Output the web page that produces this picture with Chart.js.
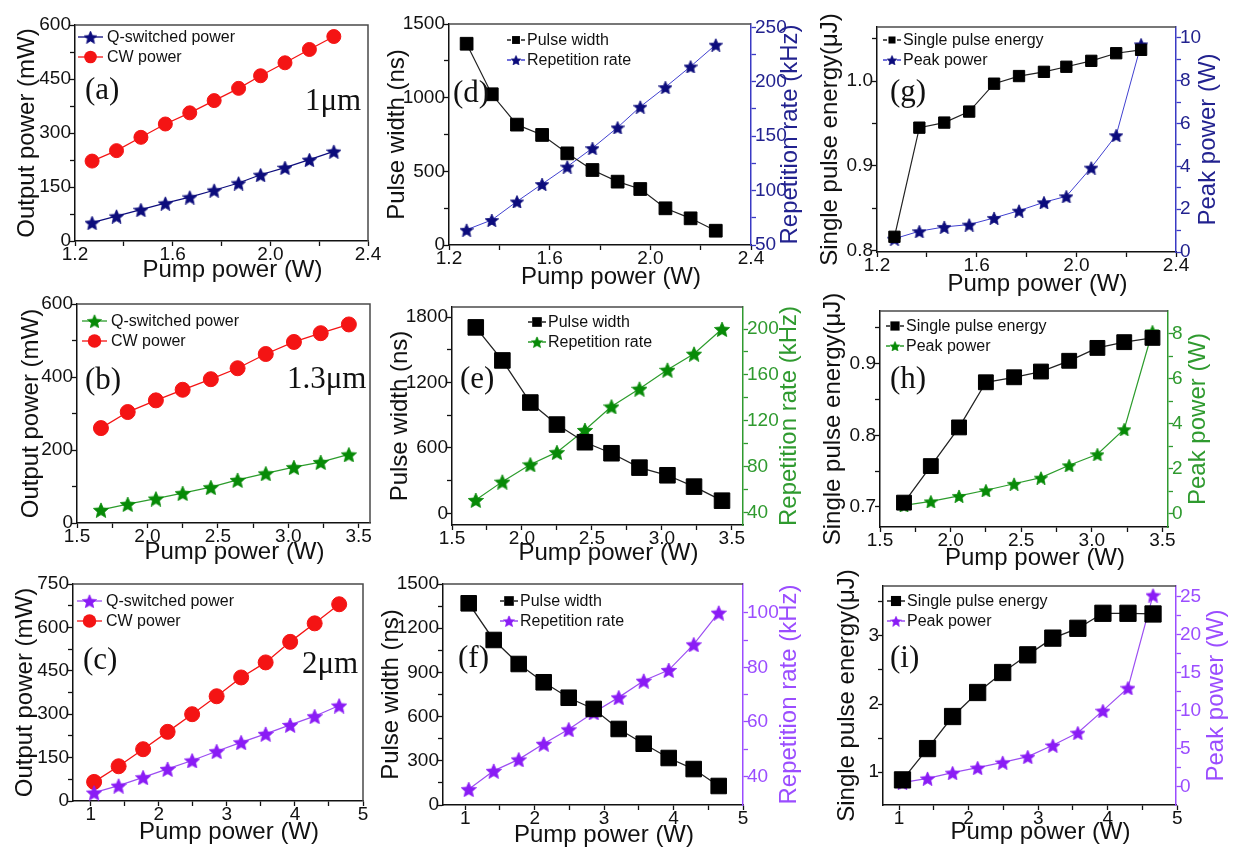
<!DOCTYPE html>
<html lang="en">
<head>
<meta charset="UTF-8">
<title>Q-switched output, pulse width and pulse energy</title>
<script src="https://cdn.jsdelivr.net/npm/chart.js@4"></script>
<style>
  html, body { margin: 0; background: #fff; }
  #page { position: relative; width: 1233px; height: 850px; overflow: hidden; background: #fff; }
  #page canvas { position: absolute; }
  .tag { position: absolute; font-family: "Liberation Serif", "Times New Roman", serif; font-size: 31px; line-height: 1; color: #111; white-space: nowrap; }
</style>
</head>
<body>
<div id="page"></div>
<script>
// pump power (W) for the three wavelengths
const x1um  = [1.27, 1.37, 1.47, 1.57, 1.67, 1.77, 1.87, 1.96, 2.06, 2.16, 2.26];
const x13um = [1.67, 1.86, 2.06, 2.25, 2.45, 2.64, 2.84, 3.04, 3.23, 3.43];
const x2um  = [1.05, 1.41, 1.77, 2.13, 2.49, 2.85, 3.21, 3.57, 3.93, 4.29, 4.65];

// output power (mW)
const qPower1  = [51, 69, 87, 105, 122, 141, 161, 184, 204, 226, 249];
const cwPower1 = [222, 251, 288, 325, 356, 390, 424, 459, 495, 532, 568];
const qPower13  = [36, 52, 67, 82, 98, 118, 136, 153, 167, 188];
const cwPower13 = [260, 304, 336, 365, 394, 424, 463, 496, 520, 544];
const qPower2  = [29, 53, 82, 111, 140, 172, 203, 232, 263, 293, 330];
const cwPower2 = [66, 120, 179, 239, 300, 362, 427, 479, 550, 614, 680];

// pulse width (ns) and repetition rate (kHz)
const width1 = [1366, 1023, 817, 747, 622, 509, 430, 380, 249, 181, 97];
const rate1  = [64, 73, 90, 106, 122, 139, 158, 177, 195, 214, 234];
const width13 = [1705, 1402, 1016, 814, 652, 551, 419, 349, 245, 116];
const rate13  = [51, 67, 82, 92.7, 112, 132.5, 148, 164.5, 178.5, 200];
const width2 = [1369, 1120, 957, 833, 728, 652, 516, 416, 319, 244, 129];
const rate2  = [35.4, 42.1, 46.3, 52, 57.3, 63.5, 69, 75.1, 79, 88.4, 100];

// single pulse energy (uJ) and peak power (W)
const energy1 = [0.816, 0.945, 0.951, 0.964, 0.997, 1.006, 1.011, 1.017, 1.024, 1.033, 1.037];
const peak1   = [0.62, 0.97, 1.17, 1.28, 1.59, 1.93, 2.32, 2.60, 3.94, 5.45, 9.69];
const energy13 = [0.706, 0.757, 0.811, 0.874, 0.881, 0.889, 0.904, 0.922, 0.930, 0.936];
const peak13   = [0.37, 0.55, 0.79, 1.04, 1.33, 1.6, 2.15, 2.64, 3.75, 8.1];
const energy2 = [0.888, 1.347, 1.817, 2.169, 2.462, 2.721, 2.966, 3.11, 3.33, 3.33, 3.32];
const peak2   = [0.53, 1.1, 1.84, 2.5, 3.2, 3.95, 5.44, 7.1, 10, 13.0, 25.2];

// tick labels (major) and minor tick marks
const xMajor1 = [1.2, 1.6, 2.0, 2.4], xMinor1 = [1.4, 1.8, 2.2];
const xMajor13 = [1.5, 2.0, 2.5, 3.0, 3.5], xMinor13 = [1.75, 2.25, 2.75, 3.25];
const xMajor2 = [1, 2, 3, 4, 5], xMinor2 = [1.5, 2.5, 3.5, 4.5];
const pMajor1 = [0, 150, 300, 450, 600], pMinor1 = [75, 225, 375, 525];
const pMajor13 = [0, 200, 400, 600], pMinor13 = [100, 300, 500];
const pMajor2 = [0, 150, 300, 450, 600, 750], pMinor2 = [75, 225, 375, 525, 675];
const wMajor1 = [0, 500, 1000, 1500], wMinor1 = [250, 750, 1250];
const rMajor1 = [50, 100, 150, 200, 250], rMinor1 = [75, 125, 175, 225];
const wMajor13 = [0, 600, 1200, 1800], wMinor13 = [300, 900, 1500];
const rMajor13 = [40, 80, 120, 160, 200], rMinor13 = [60, 100, 140, 180];
const wMajor2 = [0, 300, 600, 900, 1200, 1500], wMinor2 = [150, 450, 750, 1050, 1350];
const rMajor2 = [40, 60, 80, 100], rMinor2 = [50, 70, 90];
const eMajor1 = [0.8, 0.9, 1.0], eMinor1 = [0.85, 0.95, 1.05];
const kMajor1 = [0, 2, 4, 6, 8, 10], kMinor1 = [1, 3, 5, 7, 9];
const eMajor13 = [0.7, 0.8, 0.9], eMinor13 = [0.75, 0.85, 0.95];
const kMajor13 = [0, 2, 4, 6, 8], kMinor13 = [1, 3, 5, 7];
const eMajor2 = [1, 2, 3], eMinor2 = [1.5, 2.5, 3.5];
const kMajor2 = [0, 5, 10, 15, 20, 25], kMinor2 = [2.5, 7.5, 12.5, 17.5, 22.5];

const FONT = '"Liberation Sans", Arial, Helvetica, sans-serif';
Chart.defaults.font.family = FONT;
const PL = 70, PR = 60, PT = 20, PB = 50;

const INK = '#111';
const NAVY = '#0c0c7c', BLUE_LINE = '#4040d0', BLUE_AX = '#3a3ac4', BLUE_TXT = '#22228f';
const GREEN = '#078a07', GREEN_LINE = '#2c9c2c', GREEN_AX = '#2f9a2f';
const PURPLE = '#8a1cf5', PURPLE_LINE = '#9c4ef2', PURPLE_AX = '#9b4dff';
const RED = '#f41414';

// filled five point star used as a marker
function starImg(color, d) {
  const c = document.createElement('canvas');
  c.width = c.height = d;
  const g = c.getContext('2d');
  const R = d / 2, r = R * 0.46;
  g.beginPath();
  for (let k = 0; k < 10; k++) {
    const rad = k % 2 ? r : R;
    const ang = -Math.PI / 2 + k * Math.PI / 5;
    g.lineTo(R + rad * Math.cos(ang), R + 1 + rad * Math.sin(ang));
  }
  g.closePath();
  g.fillStyle = color;
  g.fill();
  g.strokeStyle = color;
  g.lineWidth = 0.8;
  g.stroke();
  return c;
}

const panels = [
  { rect: [75, 25, 368, 241], x: [1.2, 2.4], xMajor: xMajor1, xMinor: xMinor1, xDec: 1, xOff: 29,
    left: { range: [0, 600], major: pMajor1, minor: pMinor1, dec: 0, title: 'Output power (mW)', off: 48 },
    legend: { dx: 3, dy: 12, style: 'long' },
    tags: [['(a)', 85, 73], ['1\u03bcm', 305, 84]],
    series: [
      { label: 'Q-switched power', xs: x1um, ys: qPower1, axis: 'y', line: NAVY, lw: 1.2, fill: NAVY, star: starImg(NAVY, 15) },
      { label: 'CW power', xs: x1um, ys: cwPower1, axis: 'y', line: RED, lw: 1.2, fill: RED, shape: 'circle', r: 7 }
    ] },
  { rect: [449, 24, 751, 245], x: [1.2, 2.4], xMajor: xMajor1, xMinor: xMinor1, xDec: 1, xOff: 32,
    left: { range: [0, 1500], major: wMajor1, minor: wMinor1, dec: 0, title: 'Pulse width (ns)', off: 52 },
    right: { range: [50, 253], major: rMajor1, minor: rMinor1, dec: 0, title: 'Repetition rate (kHz)', off: 39, ax: BLUE_AX, txt: BLUE_TXT },
    legend: { dx: 58, dy: 16, style: 'dash' },
    tags: [['(d)', 453, 76]],
    series: [
      { label: 'Pulse width', xs: x1um, ys: width1, axis: 'y', line: '#222', lw: 1.2, fill: '#000', shape: 'rect', r: 9 },
      { label: 'Repetition rate', xs: x1um, ys: rate1, axis: 'y1', line: BLUE_LINE, lw: 1, fill: NAVY, star: starImg(NAVY, 14) }
    ] },
  { rect: [877, 27, 1176, 252], x: [1.2, 2.4], xMajor: xMajor1, xMinor: xMinor1, xDec: 1, xOff: 32,
    left: { range: [0.798, 1.064], major: eMajor1, minor: eMinor1, dec: 1, title: 'Single pulse energy(\u03bcJ)', off: 47 },
    right: { range: [0, 10.5], major: kMajor1, minor: kMinor1, dec: 0, title: 'Peak power (W)', off: 32, ax: BLUE_AX, txt: BLUE_TXT },
    legend: { dx: 6, dy: 13, style: 'dash' },
    tags: [['(g)', 890, 75]],
    series: [
      { label: 'Single pulse energy', xs: x1um, ys: energy1, axis: 'y', line: '#222', lw: 1.2, fill: '#000', shape: 'rect', r: 8 },
      { label: 'Peak power', xs: x1um, ys: peak1, axis: 'y1', line: BLUE_LINE, lw: 1, fill: NAVY, star: starImg(NAVY, 14) }
    ] },
  { rect: [77, 304, 370, 523], x: [1.5, 3.58], xMajor: xMajor13, xMinor: xMinor13, xDec: 1, xOff: 29,
    left: { range: [0, 600], major: pMajor13, minor: pMinor13, dec: 0, title: 'Output power (mW)', off: 46 },
    legend: { dx: 5, dy: 17, style: 'long' },
    tags: [['(b)', 85, 363], ['1.3\u03bcm', 287, 362]],
    series: [
      { label: 'Q-switched power', xs: x13um, ys: qPower13, axis: 'y', line: GREEN_LINE, lw: 1.3, fill: GREEN, star: starImg(GREEN, 16) },
      { label: 'CW power', xs: x13um, ys: cwPower13, axis: 'y', line: RED, lw: 1.3, fill: RED, shape: 'circle', r: 7.5 }
    ] },
  { rect: [452, 307, 743, 525], x: [1.5, 3.58], xMajor: xMajor13, xMinor: xMinor13, xDec: 1, xOff: 28,
    left: { range: [-107, 1892], major: wMajor13, minor: wMinor13, dec: 0, title: 'Pulse width (ns)', off: 52 },
    right: { range: [29.2, 219.2], major: rMajor13, minor: rMinor13, dec: 0, title: 'Repetition rate (kHz)', off: 46, ax: GREEN_AX, txt: GREEN_AX },
    legend: { dx: 76, dy: 15, style: 'dash' },
    tags: [['(e)', 460, 362]],
    series: [
      { label: 'Pulse width', xs: x13um, ys: width13, axis: 'y', line: '#222', lw: 1.3, fill: '#000', shape: 'rect', r: 11 },
      { label: 'Repetition rate', xs: x13um, ys: rate13, axis: 'y1', line: GREEN_LINE, lw: 1.2, fill: GREEN, star: starImg(GREEN, 16) }
    ] },
  { rect: [880, 311, 1168, 527], x: [1.5, 3.54], xMajor: xMajor13, xMinor: xMinor13, xDec: 1, xOff: 31,
    left: { range: [0.672, 0.9735], major: eMajor13, minor: eMinor13, dec: 1, title: 'Single pulse energy(\u03bcJ)', off: 47 },
    right: { range: [-0.59, 9.0], major: kMajor13, minor: kMinor13, dec: 0, title: 'Peak power (W)', off: 30, ax: GREEN_AX, txt: GREEN_AX },
    legend: { dx: 6, dy: 15, style: 'dash' },
    tags: [['(h)', 890, 362]],
    series: [
      { label: 'Single pulse energy', xs: x13um, ys: energy13, axis: 'y', line: '#222', lw: 1.3, fill: '#000', shape: 'rect', r: 10.5 },
      { label: 'Peak power', xs: x13um, ys: peak13, axis: 'y1', line: GREEN_LINE, lw: 1.2, fill: GREEN, star: starImg(GREEN, 14) }
    ] },
  { rect: [73, 584, 363, 801], x: [0.74, 5.0], xMajor: xMajor2, xMinor: xMinor2, xDec: 0, xOff: 31,
    left: { range: [0, 750], major: pMajor2, minor: pMinor2, dec: 0, title: 'Output power (mW)', off: 48 },
    legend: { dx: 4, dy: 17, style: 'long' },
    tags: [['(c)', 83, 643], ['2\u03bcm', 302, 647]],
    series: [
      { label: 'Q-switched power', xs: x2um, ys: qPower2, axis: 'y', line: PURPLE_LINE, lw: 1.3, fill: PURPLE, star: starImg(PURPLE, 16) },
      { label: 'CW power', xs: x2um, ys: cwPower2, axis: 'y', line: RED, lw: 1.3, fill: RED, shape: 'circle', r: 7.5 }
    ] },
  { rect: [443, 584, 743, 805], x: [0.68, 5.0], xMajor: xMajor2, xMinor: xMinor2, xDec: 0, xOff: 30,
    left: { range: [0, 1500], major: wMajor2, minor: wMinor2, dec: 0, title: 'Pulse width (ns)', off: 52 },
    right: { range: [29.6, 110.5], major: rMajor2, minor: rMinor2, dec: 0, title: 'Repetition rate (kHz)', off: 46, ax: PURPLE_AX, txt: PURPLE_AX },
    legend: { dx: 57, dy: 17, style: 'dash' },
    tags: [['(f)', 458, 641]],
    series: [
      { label: 'Pulse width', xs: x2um, ys: width2, axis: 'y', line: '#222', lw: 1.3, fill: '#000', shape: 'rect', r: 11 },
      { label: 'Repetition rate', xs: x2um, ys: rate2, axis: 'y1', line: PURPLE_LINE, lw: 1.2, fill: PURPLE, star: starImg(PURPLE, 16) }
    ] },
  { rect: [883, 586, 1176, 805], x: [0.77, 4.98], xMajor: xMajor2, xMinor: xMinor2, xDec: 0, xOff: 27,
    left: { range: [0.52, 3.73], major: eMajor2, minor: eMinor2, dec: 0, title: 'Single pulse energy(\u03bcJ)', off: 36 },
    right: { range: [-2.41, 26.4], major: kMajor2, minor: kMinor2, dec: 0, title: 'Peak power (W)', off: 40, ax: PURPLE_AX, txt: PURPLE_AX },
    legend: { dx: 4, dy: 15, style: 'dash' },
    tags: [['(i)', 890, 641]],
    series: [
      { label: 'Single pulse energy', xs: x2um, ys: energy2, axis: 'y', line: '#222', lw: 1.3, fill: '#000', shape: 'rect', r: 11.5 },
      { label: 'Peak power', xs: x2um, ys: peak2, axis: 'y1', line: PURPLE_LINE, lw: 1.2, fill: PURPLE, star: starImg(PURPLE, 15) }
    ] }
];

function axis(pos, range, major, minor, dec, axColor, txtColor, size) {
  const isMajor = v => major.some(m => Math.abs(m - v) < 1e-9);
  return {
    type: 'linear', position: pos, min: range[0], max: range[1], bounds: 'data',
    afterBuildTicks: a => { a.ticks = major.concat(minor).sort((p, q) => p - q).map(v => ({ value: v })); },
    afterFit: a => {
      if (pos === 'bottom') { a.height = size; a.paddingLeft = 0; a.paddingRight = 0; }
      else { a.width = size; a.paddingTop = 0; a.paddingBottom = 0; }
    },
    grid: { drawOnChartArea: false, drawTicks: true, tickLength: 5, tickWidth: 1.3, tickColor: axColor },
    border: { display: true, color: axColor, width: 1.5 },
    ticks: {
      autoSkip: false, maxRotation: 0, minRotation: 0, padding: pos === 'bottom' ? -1 : -1,
      color: txtColor, font: { size: 19, lineHeight: 1 },
      callback: v => isMajor(v) ? v.toFixed(dec) : ''
    },
    title: { display: false }
  };
}

function drawMarker(ctx, s, x, y, k) {
  if (s.star) {
    const w = s.star.width * k;
    ctx.drawImage(s.star, x - w / 2, y - w / 2, w, w);
    return;
  }
  ctx.fillStyle = s.fill;
  if (s.shape === 'circle') {
    ctx.beginPath(); ctx.arc(x, y, s.r * k, 0, Math.PI * 2); ctx.fill();
  } else {
    const h = s.r * Math.SQRT1_2 * k;
    ctx.fillRect(x - h, y - h, 2 * h, 2 * h);
  }
}

function vText(ctx, text, x, y, color) {
  ctx.save();
  ctx.translate(x, y);
  ctx.rotate(-Math.PI / 2);
  ctx.fillStyle = color;
  ctx.fillText(text, 0, 0);
  ctx.restore();
}

// frame, axis titles and the in-plot legend, Origin style
function decor(p) {
  return {
    id: 'decor',
    afterDraw(chart) {
      const { ctx, chartArea: a } = chart;
      const cy = (a.top + a.bottom) / 2;
      ctx.save();
      ctx.strokeStyle = '#4a4a4a';
      ctx.lineWidth = 1.5;
      ctx.beginPath();
      ctx.moveTo(a.left, a.top);
      ctx.lineTo(a.right, a.top);
      if (!p.right) ctx.lineTo(a.right, a.bottom);
      ctx.stroke();

      ctx.font = '24px ' + FONT;
      ctx.textAlign = 'center';
      ctx.textBaseline = 'middle';
      ctx.fillStyle = INK;
      ctx.fillText('Pump power (W)', (a.left + a.right) / 2 + 11, a.bottom + p.xOff);
      vText(ctx, p.left.title, a.left - p.left.off, cy, INK);
      if (p.right) vText(ctx, p.right.title, a.right + p.right.off, cy, p.right.txt);

      ctx.font = '16px ' + FONT;
      ctx.textAlign = 'left';
      p.series.forEach((s, i) => {
        const x0 = a.left + p.legend.dx;
        const y = a.top + p.legend.dy + i * 20;
        ctx.strokeStyle = s.line;
        ctx.lineWidth = 1.3;
        let tx;
        if (p.legend.style === 'long') {
          ctx.beginPath(); ctx.moveTo(x0, y); ctx.lineTo(x0 + 25, y); ctx.stroke();
          drawMarker(ctx, s, x0 + 12.5, y, 0.9);
          tx = x0 + 29;
        } else {
          ctx.beginPath();
          ctx.moveTo(x0, y); ctx.lineTo(x0 + 4, y);
          ctx.moveTo(x0 + 14, y); ctx.lineTo(x0 + 18, y);
          ctx.stroke();
          drawMarker(ctx, s, x0 + 9, y, s.star ? 0.75 : 0.62);
          tx = x0 + 20;
        }
        ctx.fillStyle = INK;
        ctx.fillText(s.label, tx, y + 1);
      });
      ctx.restore();
    }
  };
}

const page = document.getElementById('page');
panels.forEach(p => {
  const [L, T, R, B] = p.rect;
  const cv = document.createElement('canvas');
  const w = R - L + PL + PR, h = B - T + PT + PB;
  cv.width = w; cv.height = h;
  cv.style.left = (L - PL) + 'px';
  cv.style.top = (T - PT) + 'px';
  cv.style.width = w + 'px';
  cv.style.height = h + 'px';
  page.appendChild(cv);

  const scales = {
    x: axis('bottom', p.x, p.xMajor, p.xMinor, p.xDec, INK, INK, PB),
    y: axis('left', p.left.range, p.left.major, p.left.minor, p.left.dec, INK, INK, PL)
  };
  if (p.right) scales.y1 = axis('right', p.right.range, p.right.major, p.right.minor, p.right.dec, p.right.ax, p.right.txt, PR);

  new Chart(cv, {
    type: 'line',
    data: {
      datasets: p.series.map(s => ({
        label: s.label,
        yAxisID: s.axis,
        data: s.xs.map((x, i) => ({ x: x, y: s.ys[i] })),
        borderColor: s.line,
        borderWidth: s.lw,
        backgroundColor: s.fill,
        pointStyle: s.star || s.shape,
        pointRadius: s.r || 6,
        pointBackgroundColor: s.fill,
        pointBorderColor: s.fill,
        pointBorderWidth: 1,
        tension: 0,
        clip: false
      }))
    },
    options: {
      responsive: false,
      animation: false,
      events: [],
      layout: { padding: { top: PT, right: p.right ? 0 : PR, left: 0, bottom: 0 } },
      plugins: { legend: { display: false }, tooltip: { enabled: false } },
      scales: scales
    },
    plugins: [decor(p)]
  });

  p.tags.forEach(t => {
    const d = document.createElement('div');
    d.className = 'tag';
    d.textContent = t[0];
    d.style.left = t[1] + 'px';
    d.style.top = t[2] + 'px';
    page.appendChild(d);
  });
});
</script>
</body>
</html>
